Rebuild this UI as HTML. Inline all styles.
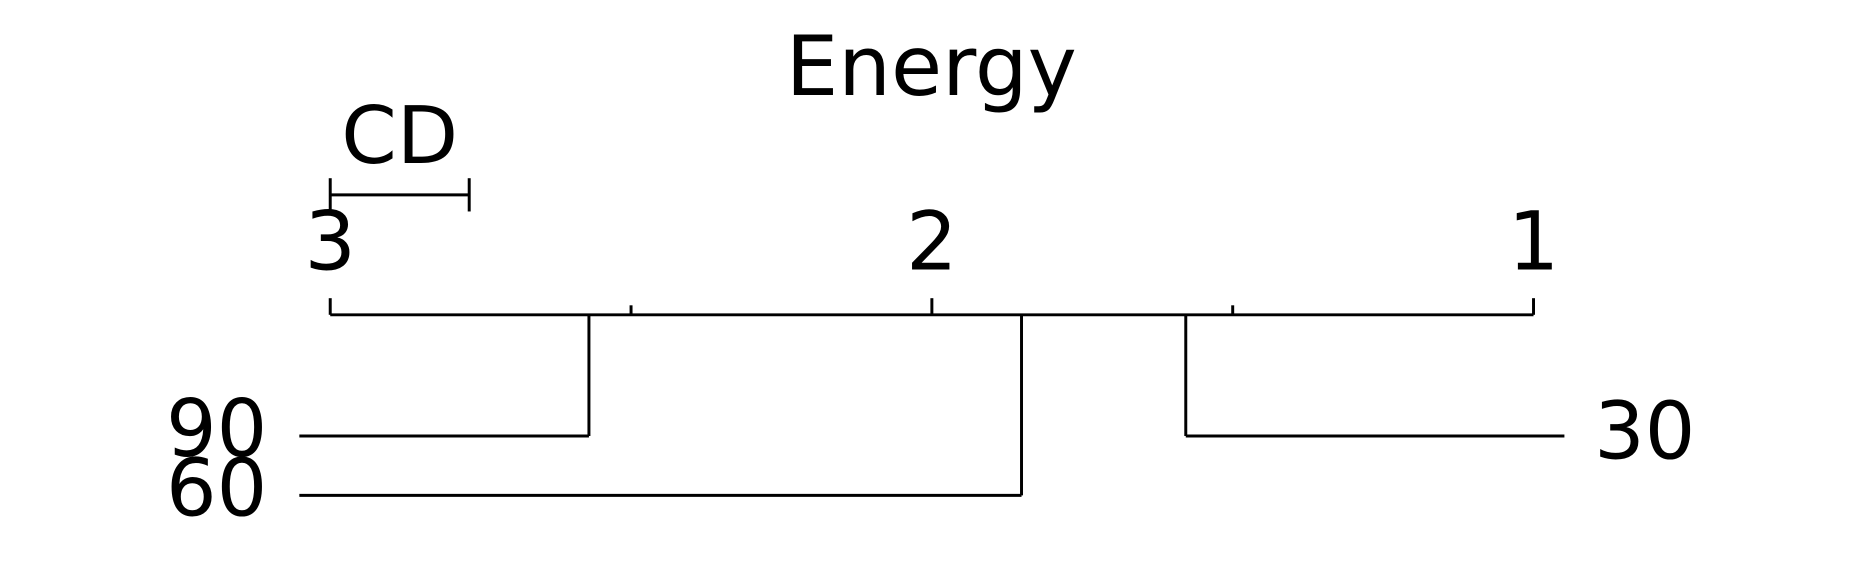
<!DOCTYPE html>
<html><head><meta charset="utf-8"><style>
body{margin:0;background:#fff;}
svg{display:block;}
text{font-family:"DejaVu Sans","Liberation Sans",sans-serif;fill:#000;}
</style></head><body>
<svg id="chart" width="1859" height="584" viewBox="0 0 1565 491.6" xmlns="http://www.w3.org/2000/svg">
<rect width="1565" height="492" fill="#fff"/>
<text x="784" y="80" font-size="70" text-anchor="middle">Energy</text>
<g id="g"></g>
</svg>
<script>
const tickValues=[3,2.5,2,1.5,1];
const tickLabels=["3","","2","","1"];
const methods=["90","60","30"];
const ranks=[2.57,1.851,1.578];
const cdValue=0.231;
const NS="http://www.w3.org/2000/svg";
const g=document.getElementById('g');
const x=r=>278+(3-r)*(1291-278)/2;
function line(x1,y1,x2,y2,name){const l=document.createElementNS(NS,'line');
l.setAttribute('x1',x1);l.setAttribute('y1',y1);l.setAttribute('x2',x2);l.setAttribute('y2',y2);
l.setAttribute('stroke','#000');l.setAttribute('stroke-width','2.5');


g.appendChild(l);return l;}
function text(t,xx,yy,anchor,size,name){const e=document.createElementNS(NS,'text');
e.setAttribute('x',xx);e.setAttribute('y',yy);e.setAttribute('text-anchor',anchor);e.setAttribute('font-size',size);e.textContent=t;


g.appendChild(e);}
const axisY=265;
line(x(3),axisY,x(1),axisY,'rank-axis');
tickValues.forEach((v,i)=>{const major=tickLabels[i]!=="";
line(x(v),major?251:257,x(v),axisY,'axis-tick');
if(major)text(tickLabels[i],x(v),227,'middle',68,'tick-label');});
line(x(3),164,x(3-cdValue),164,'cd-bar');
line(x(3),150,x(3),178,'cd-bar-left-end');
line(x(3-cdValue),150,x(3-cdValue),178,'cd-bar-right-end');
text('CD',(x(3)+x(3-cdValue))/2,137,'middle',67,'cd-label');
const rowY=[367,417,367];
const side=["left","left","right"];
methods.forEach((m,i)=>{const xr=x(ranks[i]);const y=rowY[i];
line(xr,axisY,xr,y,'method-connector');
if(side[i]==="left"){line(252,y,xr,y,'method-line');text(m,225,y+17,'end',67,'method-label');}
else{line(xr,y,1317,y,'method-line');text(m,1342,y+19,'start',67,'method-label');}
});
</script>
</body></html>
